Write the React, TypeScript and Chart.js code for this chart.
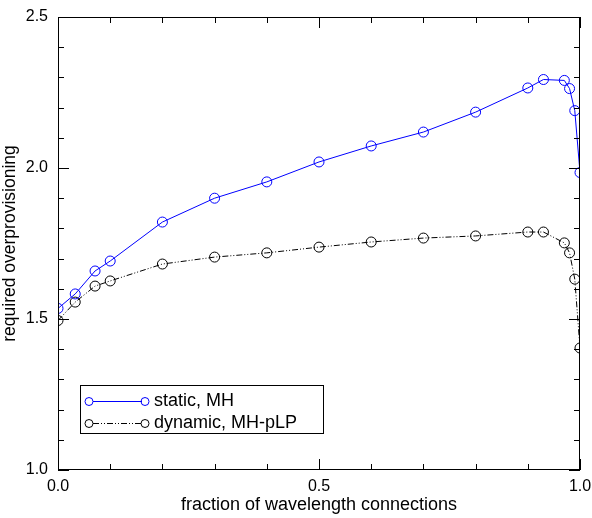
import React, { useEffect, useRef } from "react";
import { Chart, registerables } from "chart.js";

Chart.register(...registerables);

const staticX = [0, 0.033, 0.071, 0.1, 0.2, 0.3, 0.4, 0.5, 0.6, 0.7, 0.8, 0.9, 0.93, 0.97, 0.98, 0.99, 1.0];
const staticY = [1.535, 1.583, 1.659, 1.692, 1.821, 1.9, 1.954, 2.02, 2.073, 2.119, 2.185, 2.265, 2.293, 2.29, 2.263, 2.19, 1.985];
const dynamicX = [0, 0.033, 0.071, 0.1, 0.2, 0.3, 0.4, 0.5, 0.6, 0.7, 0.8, 0.9, 0.93, 0.97, 0.98, 0.99, 1.0];
const dynamicY = [1.495, 1.556, 1.609, 1.626, 1.682, 1.705, 1.719, 1.738, 1.755, 1.768, 1.775, 1.788, 1.788, 1.752, 1.719, 1.632, 1.404];
const seriesLabels = ["static, MH", "dynamic, MH-pLP"];
const xTickValues = [0, 0.5, 1.0];
const yTickValues = [1.0, 1.5, 2.0, 2.5];
const xTitle = "fraction of wavelength connections";
const yTitle = "required overprovisioning";

const FONT = "'Liberation Sans', Arial, sans-serif";

const minorTicksPlugin = {
  id: "minorTicks",
  afterDraw(chart: any) {
    const ctx = chart.ctx;
    const { left, right, top, bottom } = chart.chartArea;
    const xs = chart.scales.x;
    const ys = chart.scales.y;
    ctx.save();
    ctx.strokeStyle = "#000";
    ctx.lineWidth = 1;
    ctx.strokeRect(left + 0.5, top + 0.5, right - left - 1, bottom - top - 1);
    ctx.beginPath();
    for (let i = 0; i <= 10; i++) {
      const v = i / 10;
      const px = Math.round(xs.getPixelForValue(v)) + 0.5;
      const len = i % 5 === 0 ? 11 : 6;
      ctx.moveTo(px, bottom);
      ctx.lineTo(px, bottom - len);
      ctx.moveTo(px, top);
      ctx.lineTo(px, top + len);
    }
    for (let i = 0; i <= 15; i++) {
      const v = 1 + i / 10;
      const py = Math.round(ys.getPixelForValue(v)) + 0.5;
      const len = i % 5 === 0 ? 11 : 6;
      ctx.moveTo(left, py);
      ctx.lineTo(left + len, py);
      ctx.moveTo(right, py);
      ctx.lineTo(right - len, py);
    }
    ctx.stroke();

    // legend box
    const bx = 80, by = 385, bw = 243, bh = 48;
    ctx.fillStyle = "#fff";
    ctx.fillRect(bx, by, bw, bh);
    ctx.strokeRect(bx + 0.5, by + 0.5, bw, bh);
    const ds = chart.data.datasets;
    const rows = [401, 423];
    ds.forEach((d: any, i: number) => {
      const y = rows[i] + 0.5;
      ctx.strokeStyle = d.borderColor;
      ctx.lineWidth = 1;
      ctx.setLineDash(d.borderDash || []);
      ctx.beginPath();
      ctx.moveTo(93, y);
      ctx.lineTo(142, y);
      ctx.stroke();
      ctx.setLineDash([]);
      ctx.beginPath();
      ctx.arc(89, y, 4, 0, Math.PI * 2);
      ctx.stroke();
      ctx.beginPath();
      ctx.arc(145, y, 4, 0, Math.PI * 2);
      ctx.stroke();
      ctx.fillStyle = "#000";
      ctx.font = `18px ${FONT}`;
      ctx.textBaseline = "middle";
      ctx.textAlign = "left";
      ctx.fillText(d.label, 154, y);
    });
    ctx.restore();
  },
};

export default function App() {
  const ref = useRef<HTMLCanvasElement>(null);
  useEffect(() => {
    if (!ref.current) return;
    const chart = new Chart(ref.current, {
      type: "scatter",
      data: {
        datasets: [
          {
            label: seriesLabels[0],
            data: staticX.map((x, i) => ({ x, y: staticY[i] })),
            showLine: true,
            borderColor: "#0000ff",
            borderWidth: 1,
            pointRadius: 5,
            pointBorderWidth: 1,
            pointBackgroundColor: "rgba(0,0,0,0)",
            pointBorderColor: "#0000ff",
          },
          {
            label: seriesLabels[1],
            data: dynamicX.map((x, i) => ({ x, y: dynamicY[i] })),
            showLine: true,
            borderColor: "#000000",
            borderWidth: 1,
            borderDash: [6, 2, 1, 2, 1, 2],
            pointRadius: 5,
            pointBorderWidth: 1,
            pointBackgroundColor: "rgba(0,0,0,0)",
            pointBorderColor: "#000000",
          },
        ],
      },
      options: {
        responsive: false,
        animation: false,
        layout: { padding: { top: 17, right: 12, left: 0, bottom: 0 } },
        plugins: { legend: { display: false }, tooltip: { enabled: false } },
        scales: {
          x: {
            type: "linear",
            min: 0,
            max: 1,
            afterBuildTicks: (s: any) => {
              s.ticks = xTickValues.map((v) => ({ value: v }));
            },
            afterFit: (s: any) => {
              s.height = 48;
              s.paddingLeft = 0;
              s.paddingRight = 0;
            },
            grid: { display: false, drawTicks: false },
            border: { display: false },
            ticks: {
              color: "#000",
              font: { family: FONT, size: 16 },
              padding: 7,
              maxRotation: 0,
              callback: (v: any) => Number(v).toFixed(1),
            },
            title: {
              display: true,
              text: xTitle,
              color: "#000",
              font: { family: FONT, size: 18 },
              padding: { top: 0, bottom: 2 },
            },
          },
          y: {
            type: "linear",
            min: 1.0,
            max: 2.5,
            afterBuildTicks: (s: any) => {
              s.ticks = yTickValues.map((v) => ({ value: v }));
            },
            afterFit: (s: any) => {
              s.width = 58;
              s.paddingTop = 0;
              s.paddingBottom = 0;
            },
            grid: { display: false, drawTicks: false },
            border: { display: false },
            ticks: {
              color: "#000",
              font: { family: FONT, size: 16 },
              padding: 10,
              callback: (v: any) => Number(v).toFixed(1),
            },
            title: {
              display: true,
              text: yTitle,
              color: "#000",
              font: { family: FONT, size: 17.5 },
              padding: { top: 0, bottom: 0 },
            },
          },
        },
      },
      plugins: [minorTicksPlugin],
    } as any);
    return () => chart.destroy();
  }, []);
  return (
    <div style={{ position: "absolute", left: 0, top: 0, width: 592, height: 518, background: "#fff" }}>
      <canvas ref={ref} width={592} height={518} style={{ width: 592, height: 518 }} />
    </div>
  );
}
